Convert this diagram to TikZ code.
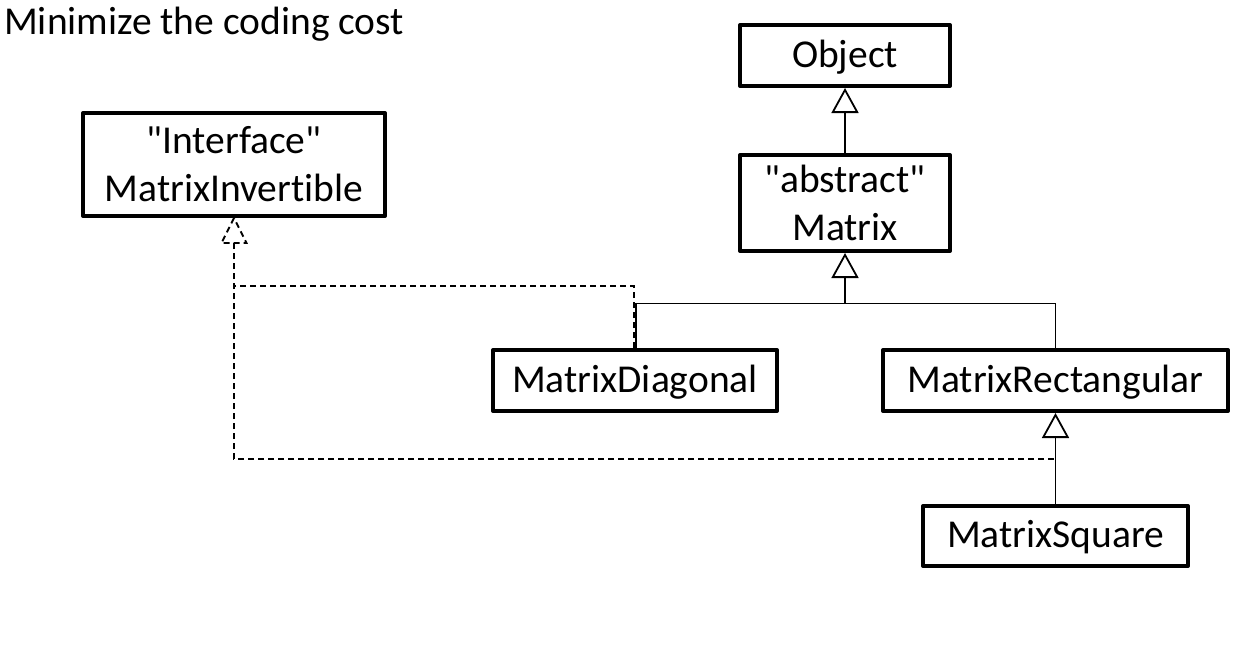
\documentclass[tikz,border=0pt]{standalone}
\usepackage{fontspec}
\setmainfont[Ligatures={TeXOff,NoCommon}]{Carlito}
\usetikzlibrary{arrows.meta}
\begin{document}
\begin{tikzpicture}[x=1pt,y=-1pt,
  every node/.style={font=\fontsize{39.5}{48}\selectfont, inner sep=0pt},
  cls/.style={draw, line width=4pt, line join=round, align=center, fill=white},
  oneline/.style={text height=31pt, text depth=8pt},
  conn/.style={line width=1.8pt},
  inh/.style={conn, -{Triangle[open, length=25pt, width=27pt, fill=white]}},
  dsh/.style={conn, dash pattern=on 6pt off 4pt}]
\useasboundingbox (0,0) rectangle (1257,645);
\node[anchor=base west] (title) at (4,34) {Minimize the coding cost};
\node[cls, oneline, minimum width=210pt, minimum height=61pt] (obj) at (845,55.5) {Object};
\node[cls, minimum width=210pt, minimum height=96pt] (abs) at (845,203) {"abstract"\\Matrix};
\node[cls, minimum width=302pt, minimum height=103pt] (iface) at (234,164.5) {"Interface"\\MatrixInvertible};
\node[cls, oneline, minimum width=284pt, minimum height=61pt] (diag) at (635,380.5) {MatrixDiagonal};
\node[cls, oneline, minimum width=345pt, minimum height=61pt] (rect) at (1055.5,380.5) {MatrixRectangular};
\node[cls, oneline, minimum width=265pt, minimum height=60pt] (sq) at (1055.5,536) {MatrixSquare};
\coordinate (bus) at (845,303.5);
\coordinate (dtop) at (234,286);
\coordinate (sqdash) at (1054,459);
\coordinate (rbase) at ([yshift=-25pt]iface.south);
% inheritance
\draw[inh] (abs.north) -- (obj.south);
\draw[inh] (bus) -- (abs.south);
\draw[conn] ([xshift=1pt]diag.north) |- (bus) -| (rect.north);
\draw[inh] (sq.north) -- (rect.south);
% realization
\draw[dsh] ([xshift=-1pt]diag.north) |- (dtop);
\draw[dsh] (sqdash) -| (rbase);
\draw[dsh, line join=miter] (iface.south) -- ([xshift=-12.5pt]rbase) -- ([xshift=12.5pt]rbase) -- cycle;
\end{tikzpicture}
\end{document}
